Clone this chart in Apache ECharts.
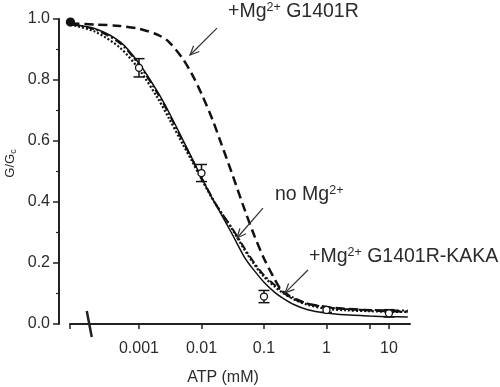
<!DOCTYPE html>
<html>
<head>
<meta charset="utf-8">
<script src="https://cdn.jsdelivr.net/npm/echarts@6/dist/echarts.min.js"></script>
<style>
  html, body { margin: 0; padding: 0; background: #fff; }
  #chart { width: 500px; height: 387px; }
</style>
</head>
<body>
<div id="chart"></div>
<script>
// ATP concentrations (mM) the fitted curves are read at; first one stands for "0 ATP" left of the break
const atp = [0.00008, 0.0002, 0.0005, 0.001, 0.002, 0.003, 0.005, 0.007, 0.01, 0.015, 0.02, 0.03,
  0.05, 0.07, 0.1, 0.15, 0.2, 0.3, 0.5, 1, 2, 5, 10, 20]
// solid fit (control)
const fitSolid = [0.983, 0.968, 0.925, 0.855, 0.76, 0.695, 0.605, 0.545, 0.48, 0.41, 0.365, 0.30,
  0.215, 0.175, 0.137, 0.103, 0.085, 0.064, 0.047, 0.036, 0.03, 0.026, 0.024, 0.023]
// dotted fit: no Mg2+
const fitNoMg = [0.982, 0.958, 0.905, 0.835, 0.74, 0.675, 0.59, 0.535, 0.475, 0.41, 0.37, 0.315,
  0.24, 0.195, 0.155, 0.122, 0.102, 0.081, 0.063, 0.05, 0.045, 0.042, 0.04, 0.04]
// dashed fit: +Mg2+ G1401R
const fitG1401R = [0.985, 0.982, 0.977, 0.968, 0.948, 0.925, 0.87, 0.82, 0.755, 0.67, 0.60, 0.50,
  0.37, 0.29, 0.215, 0.145, 0.105, 0.083, 0.066, 0.056, 0.05, 0.045, 0.042, 0.041]
// dash-dot fit: +Mg2+ G1401R-KAKA
const fitKaka = [0.983, 0.965, 0.92, 0.85, 0.755, 0.69, 0.60, 0.542, 0.48, 0.412, 0.37, 0.318,
  0.245, 0.2, 0.16, 0.127, 0.107, 0.086, 0.067, 0.055, 0.049, 0.046, 0.045, 0.044]

// measured points with error bars
const ptAtp = [0.00008, 0.001, 0.01, 0.1, 1, 10]
const ptMean = [0.99, 0.84, 0.495, 0.09, 0.046, 0.035]
const ptSem = [0, 0.03, 0.028, 0.02, 0.008, 0.012]

const xTicks = [0.001, 0.01, 0.1, 1, 10]
const xTickLabels = ['0.001', '0.01', '0.1', '1', '10']
const yTickLabels = ['0.0', '0.2', '0.4', '0.6', '0.8', '1.0']
const xMin = 0.0000787
const xMax = 21.7

const FONT = '"Liberation Sans", Arial, Helvetica, sans-serif'
const TXT = '#2b2b2b'

const lineSeries = (data, type, width) => ({
  type: 'line',
  data: atp.map((x, i) => [x, data[i]]),
  smooth: 0.3,
  symbol: 'none',
  silent: true,
  z: 2,
  lineStyle: { color: '#111', width: width, type: type }
})

const option = {
  animation: false,
  grid: { left: 70, right: 90, top: 19, bottom: 63, containLabel: false, outerBoundsMode: 'none' },
  xAxis: {
    type: 'log',
    logBase: 10,
    min: xMin,
    max: xMax,
    name: 'ATP (mM)',
    nameLocation: 'middle',
    nameGap: 46,
    nameTextStyle: { fontFamily: FONT, fontSize: 16, color: TXT, padding: [0, 34, 0, 0] },
    axisLine: { lineStyle: { color: '#222', width: 2 } },
    axisTick: {
      show: true, length: 5, lineStyle: { color: '#222', width: 1.5 },
      customValues: [xMin * 1.001].concat(xTicks, [5])
    },
    axisLabel: {
      customValues: xTicks,
      margin: 17,
      fontFamily: FONT, fontSize: 16, color: TXT,
      formatter: v => {
        const i = xTicks.findIndex(t => Math.abs(t - v) / t < 1e-6)
        return i >= 0 ? xTickLabels[i] : ''
      }
    },
    splitLine: { show: false },
    minorTick: { show: false }
  },
  yAxis: {
    type: 'value',
    min: 0,
    max: 1,
    interval: 0.2,
    offset: 11,
    name: '{a|G/G}{b|c}',
    nameLocation: 'middle',
    nameRotate: 90,
    nameGap: 41,
    nameMoveOverlap: false,
    nameTextStyle: {
      padding: [0, 0, 0, 16],
      rich: {
        a: { fontFamily: FONT, fontSize: 13, color: TXT, lineHeight: 16 },
        b: { fontFamily: FONT, fontSize: 9, color: TXT, lineHeight: 10, verticalAlign: 'bottom' }
      }
    },
    axisLine: { show: true, lineStyle: { color: '#222', width: 2 } },
    axisTick: { show: true, length: 6, lineStyle: { color: '#222', width: 1.5 } },
    minorTick: { show: true, splitNumber: 2, length: 3, lineStyle: { color: '#222', width: 1.2 } },
    axisLabel: {
      margin: 9, fontFamily: FONT, fontSize: 16, color: TXT,
      formatter: v => yTickLabels[Math.round(v * 5)]
    },
    splitLine: { show: false }
  },
  series: [
    lineSeries(fitSolid, 'solid', 1.5),
    lineSeries(fitNoMg, [2, 2], 2.2),
    lineSeries(fitG1401R, [9, 5], 2.5),
    lineSeries(fitKaka, [8, 3, 2, 3], 2),
    {
      type: 'custom',
      clip: false,
      z: 5,
      data: ptAtp.map((x, i) => [x, ptMean[i], ptSem[i], i === 0 ? 1 : 0]),
      renderItem: (params, api) => {
        const x = api.value(0), m = api.value(1), s = api.value(2), filled = api.value(3)
        const c = api.coord([x, m])
        const kids = []
        if (s > 0) {
          const t = api.coord([x, m + s]), b = api.coord([x, m - s])
          const st = { stroke: '#111', lineWidth: 1.5 }
          kids.push({ type: 'line', shape: { x1: c[0], y1: t[1], x2: c[0], y2: b[1] }, style: st })
          kids.push({ type: 'line', shape: { x1: c[0] - 5.5, y1: t[1], x2: c[0] + 5.5, y2: t[1] }, style: st })
          kids.push({ type: 'line', shape: { x1: c[0] - 5.5, y1: b[1], x2: c[0] + 5.5, y2: b[1] }, style: st })
        }
        kids.push({
          type: 'circle',
          shape: { cx: c[0], cy: c[1], r: filled ? 4 : 3.5 },
          style: { fill: filled ? '#111' : '#fff', stroke: '#111', lineWidth: 1.3 }
        })
        return { type: 'group', children: kids }
      }
    }
  ]
}

const chart = echarts.init(document.getElementById('chart'))
chart.setOption(option)

// annotation arrows, given in data coordinates [ATP, G/Gc]
const arrows = [
  [[0.0177, 0.970], [0.00655, 0.882]],
  [[0.0964, 0.380], [0.037, 0.282]],
  [[0.506, 0.177], [0.217, 0.102]]
]
const toPx = p => chart.convertToPixel({ gridIndex: 0 }, p)
const graphic = []
arrows.forEach(([from, to]) => {
  const a = toPx(from), b = toPx(to)
  const ang = Math.atan2(a[1] - b[1], a[0] - b[0])
  const L = 10, w = 0.42
  const h1 = [b[0] + L * Math.cos(ang + w), b[1] + L * Math.sin(ang + w)]
  const h2 = [b[0] + L * Math.cos(ang - w), b[1] + L * Math.sin(ang - w)]
  graphic.push({ type: 'line', shape: { x1: a[0], y1: a[1], x2: b[0], y2: b[1] }, style: { stroke: '#333', lineWidth: 1.2 }, z: 10 })
  graphic.push({ type: 'polyline', shape: { points: [h1, b, h2] }, style: { stroke: '#333', lineWidth: 1.2, fill: null }, z: 10 })
})

// axis break mark on the x axis
const br = toPx([0.00016, 0])
graphic.push({
  type: 'line', z: 10,
  shape: { x1: br[0] - 2.5, y1: br[1] - 13, x2: br[0] + 2.5, y2: br[1] + 13 },
  style: { stroke: '#222', lineWidth: 2.5 }
})

const annRich = {
  n: { fontFamily: FONT, fontSize: 19.5, color: TXT, lineHeight: 22 },
  s: { fontFamily: FONT, fontSize: 12.5, color: TXT, lineHeight: 12, verticalAlign: 'top' }
}
const ann = (text, left, top) => ({
  type: 'text', left: left, top: top, z: 10,
  style: { text: text, rich: annRich, fill: TXT }
})
graphic.push(ann('{n|+Mg}{s|2+}{n| G1401R}', 228, 1))
graphic.push(ann('{n|no Mg}{s|2+}', 275, 184))
graphic.push(ann('{n|+Mg}{s|2+}{n| G1401R-KAKA}', 309, 246))

chart.setOption({ graphic: graphic })
</script>
</body>
</html>
